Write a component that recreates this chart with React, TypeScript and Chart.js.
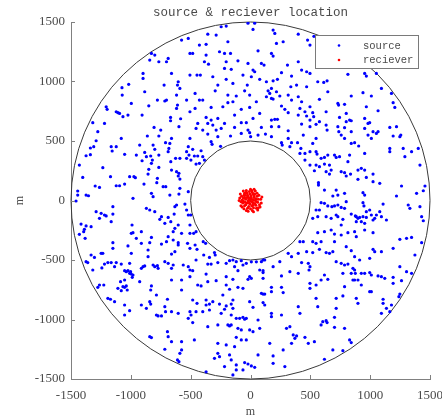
import React, { useEffect, useRef } from "react";
import { Chart, registerables } from "chart.js";

Chart.register(...registerables);

// Source positions in metres, grouped by sector of the annulus
const sourceNorthWest: [number, number][] = [
  [-576,1348],[-520,1362],[-506,1236],[-828,1236],[-842,1180],[-800,1222],[-766,1166],[-688,1194],[-702,1166],[-898,1068],
  [-898,1026],[-660,1068],[-604,998],[-610,970],[-1018,976],[-1074,948],[-1072,886],[-884,914],[-722,970],[-590,942],
  [-506,1054],[-618,886],[-534,844],[-778,844],[-716,836],[-702,844],[-996,816],[-850,796],[-610,802],[-618,774],
  [-1206,788],[-1198,766],[-1122,746],[-1108,738],[-1094,732],[-1066,704],[-1024,718],[-906,718],[-668,698],[-668,670],
  [-584,687],[-506,746],[-1318,654],[-1220,648],[-1276,578],[-806,614],[-750,592],[-598,620],[-766,542],[-862,542],
  [-1080,522],[-1290,502],[-1310,452],[-1338,441],[-1164,452],[-1156,416],[-1122,452],[-926,466],[-814,466],[-800,430],
  [-710,486],[-674,480],[-660,522],[-682,438],[-688,410],[-506,522],[-520,452],[-534,410],[-514,382],[-534,354],
  [-498,340],[-1374,376],[-1338,385],[-1052,388],[-954,382],[-884,404],[-870,368],[-834,374],[-766,382],[-820,340],
  [-828,312],[-906,334],[-626,354],[-590,354],[-666,326],[-1430,298],[-1234,276],[-850,262],[-766,278],[-660,256],
  [-618,242],[-598,228],[-604,206],[-1402,194],[-1170,200],[-1010,200],[-974,200],[-962,192],[-856,222],[-778,186],
  [-590,180],[-1298,122],[-1262,110],[-1122,124],[-1094,124],[-1052,138],[-890,138],[-783,150],[-730,116],[-708,116],
  [-590,102],[-1444,80],[-1444,46],[-1374,46],[-1354,40],[-982,18],[-828,60],[-814,32],[-674,46],[-598,54],[-520,74],
];

const sourceNorth: [number, number][] = [
  [-245,1460],[-203,1466],[-21,1490],[35,1490],[-287,1390],[-357,1398],[21,1438],[189,1432],[203,1404],[399,1398],
  [-427,1306],[-371,1312],[-189,1334],[217,1320],[273,1334],[477,1348],[497,1306],[-483,1236],[-371,1222],[-259,1250],
  [-217,1236],[-167,1236],[63,1258],[175,1236],[189,1214],[-385,1166],[-351,1146],[-203,1166],[-105,1174],[-21,1152],
  [91,1152],[113,1138],[309,1138],[399,1166],[-217,1110],[-161,1102],[21,1096],[35,1082],[259,1074],[427,1096],
  [469,1082],[-447,1054],[-419,1054],[-315,1040],[-63,1054],[7,1040],[-203,1018],[77,1018],[133,998],[189,1006],
  [225,1018],[343,1046],[497,1068],[-273,970],[-147,984],[-27,970],[175,942],[337,956],[385,970],[469,956],
  [-295,922],[-49,922],[147,922],[161,900],[217,914],[-463,900],[-189,886],[-119,878],[-7,886],[133,872],
  [175,858],[245,878],[315,886],[399,872],[-427,844],[-399,844],[49,830],[189,852],[-189,822],[-147,830],
  [343,844],[427,830],[-463,774],[-329,782],[-231,788],[-77,766],[-7,782],[259,794],[287,766],[413,774],
  [497,788],[455,746],[-133,718],[77,732],[315,738],[399,718],[469,710],[-371,698],[-273,690],[-329,676],
  [21,690],[175,676],[203,682],[225,682],[497,676],[-441,648],[-357,648],[-315,634],[-217,648],[-77,654],
  [-35,654],[427,642],[-455,606],[-399,592],[-287,592],[-245,606],[-133,614],[-21,592],[91,614],[175,620],
  [237,620],[497,620],[-357,558],[-167,542],[-77,564],[-7,570],[63,550],[125,558],[315,586],[441,550],
  [-273,536],[1,536],[175,536],[315,522],[-329,494],[-321,472],[-250,455],[-483,430],[-413,418],[259,486],
  [265,466],[343,486],[393,486],[-469,374],[-441,374],[-399,368],[421,438],[455,396],[329,452],[413,396],
  [497,410],[-455,306],[-385,340],[-427,312],[455,340],[497,298],
];

const sourceNorthEast: [number, number][] = [
  [530,1380],[562,998],[612,992],[640,1006],[646,914],[814,1060],[954,1068],[968,1046],[1052,1068],[1094,942],
  [940,906],[1010,878],[1178,900],[576,850],[730,816],[736,802],[786,808],[842,878],[1192,822],[1206,782],
  [968,788],[1066,754],[520,738],[528,704],[632,746],[744,698],[800,732],[828,676],[842,670],[800,662],
  [954,690],[982,648],[996,654],[576,662],[548,640],[632,634],[640,592],[730,620],[786,612],[738,578],
  [758,550],[786,522],[842,578],[954,606],[1024,578],[1052,564],[1066,578],[982,550],[1010,522],[1164,614],
  [1220,620],[1192,542],[1248,536],[1256,550],[548,522],[520,480],[842,480],[870,486],[904,458],[1164,438],
  [1164,410],[1276,438],[1346,410],[1290,368],[1402,438],[548,410],[556,390],[646,382],[590,354],[618,362],
  [702,382],[716,362],[744,368],[828,382],[954,396],[548,298],[576,284],[618,306],[660,298],[814,326],
  [534,250],[632,242],[674,256],[660,222],[758,242],[786,234],[800,206],[898,256],[926,270],[954,256],
  [836,222],[968,194],[1024,222],[1024,158],[1080,144],[898,178],[568,150],[568,130],[618,88],[716,88],
  [688,38],[730,46],[786,60],[940,66],[954,46],[1262,122],[1416,298],[1458,122],[1388,60],[1444,82],
  [1220,38],
];

const sourceSouthWest: [number, number][] = [
  [-1458,-4],[-1150,-52],[-1290,-94],[-1248,-108],[-1220,-122],[-1206,-130],[-1150,-114],[-1262,-150],[-1164,-178],[-1416,-198],
  [-1374,-214],[-1332,-220],[-1388,-242],[-1394,-262],[-1430,-284],[-1382,-318],[-990,-206],[-982,-270],[-996,-276],[-912,-262],
  [-870,-66],[-842,-80],[-800,-94],[-744,-136],[-758,-158],[-688,-142],[-632,-52],[-618,-38],[-548,-30],[-534,-80],
  [-520,-122],[-638,-114],[-716,-192],[-666,-178],[-604,-206],[-632,-234],[-646,-262],[-576,-276],[-506,-206],[-506,-276],
  [-954,-318],[-828,-310],[-842,-354],[-912,-360],[-856,-416],[-744,-366],[-688,-304],[-702,-346],[-646,-332],[-604,-354],
  [-604,-374],[-526,-360],[-506,-402],[-1150,-354],[-1150,-402],[-1024,-382],[-1248,-444],[-1234,-444],[-1332,-458],[-1304,-478],
  [-996,-444],[-856,-472],[-660,-450],[-632,-430],[-1374,-514],[-1360,-522],[-1220,-534],[-1192,-522],[-1164,-522],[-1136,-556],
  [-1122,-522],[-1080,-534],[-1010,-528],[-1052,-590],[-1038,-598],[-1024,-590],[-1002,-598],[-1010,-612],[-996,-618],[-982,-626],
  [-988,-646],[-912,-570],[-898,-556],[-884,-550],[-814,-542],[-800,-556],[-772,-570],[-778,-548],[-716,-514],[-688,-528],
  [-660,-570],[-646,-542],[-562,-542],[-520,-556],[-506,-584],[-1318,-584],[-1242,-567],[-1086,-682],[-1052,-668],[-1262,-710],
  [-1276,-730],[-1226,-710],[-1108,-738],[-1080,-758],[-1066,-724],[-1052,-730],[-1038,-718],[-1030,-752],[-926,-682],[-828,-718],
  [-834,-752],[-786,-794],[-660,-668],[-576,-668],[-506,-640],[-576,-752],[-1170,-830],[-1136,-850],[-694,-830],[-1192,-822],
  [-1052,-878],[-1010,-926],[-912,-878],[-870,-906],[-842,-850],[-834,-870],[-716,-892],[-660,-934],[-786,-962],[-772,-970],
  [-744,-970],[-710,-934],[-604,-948],[-506,-934],[-520,-990],[-1052,-962],[-842,-1144],[-828,-1152],[-694,-1102],[-688,-1144],
  [-660,-1186],[-716,-1250],[-576,-1186],[-576,-1256],[-610,-1340],[-598,-1354],[-590,-1284],
];

const sourceSouth: [number, number][] = [
  [-500,-122],[-475,-276],[-455,-262],[-463,-374],[-395,-346],[-375,-360],[-447,-410],[-391,-458],[-455,-500],[-343,-478],
  [-301,-438],[-295,-458],[-483,-590],[-357,-534],[-329,-534],[-273,-522],[-203,-528],[-175,-506],[-147,-500],[-133,-556],
  [-119,-514],[-105,-590],[-77,-506],[-63,-542],[-35,-528],[7,-515],[49,-515],[91,-514],[105,-500],[119,-500],
  [77,-584],[105,-590],[105,-606],[189,-556],[245,-514],[315,-444],[343,-472],[399,-444],[413,-346],[441,-346],
  [469,-430],[483,-528],[497,-556],[489,-584],[329,-598],[427,-522],[-203,-640],[-7,-640],[7,-654],[-21,-662],
  [105,-654],[-371,-618],[-357,-682],[-287,-674],[-147,-662],[259,-634],[399,-612],[-441,-710],[-413,-718],[-203,-710],
  [-175,-746],[-105,-730],[-63,-738],[175,-730],[175,-766],[91,-780],[105,-786],[119,-786],[273,-774],[259,-730],
  [497,-696],[497,-738],[-483,-836],[-371,-836],[-343,-870],[-315,-850],[-371,-878],[-447,-864],[-231,-794],[-259,-870],
  [-147,-836],[-203,-886],[-161,-870],[-147,-906],[-217,-914],[-7,-850],[21,-898],[105,-858],[119,-878],[175,-948],
  [175,-976],[259,-962],[399,-892],[413,-948],[-497,-962],[-455,-934],[-399,-934],[-343,-920],[-245,-948],[-161,-962],
  [-119,-990],[-91,-990],[-63,-982],[-49,-998],[-35,-990],[-189,-1046],[-175,-1054],[-161,-1046],[-273,-1046],[-105,-1074],
  [-357,-1060],[-483,-1026],[63,-1004],[77,-1074],[-77,-1088],[-7,-1088],[21,-1102],[-119,-1150],[-77,-1172],[-35,-1172],
  [-273,-1200],[-203,-1214],[-133,-1228],[161,-1200],[357,-1130],[371,-1158],[385,-1138],[301,-1074],[329,-1060],[343,-1200],
  [455,-1150],[483,-1200],[-469,-1172],[-273,-1284],[-301,-1326],[-259,-1312],[-175,-1298],[-161,-1340],[-119,-1382],[-119,-1424],
  [-49,-1362],[-21,-1374],[7,-1390],[-63,-1424],[35,-1402],[-371,-1440],[-217,-1396],[-147,-1466],[63,-1298],[189,-1306],
  [273,-1256],[287,-1396],[189,-1368],
];

const sourceSouthEast: [number, number][] = [
  [590,-18],[618,-24],[646,-46],[680,-52],[702,-46],[730,-38],[758,-58],[786,-66],[800,-10],[940,-18],
  [948,-46],[968,-94],[996,-80],[1052,-122],[1108,-30],[1318,-38],[1332,-66],[1416,-52],[1430,-136],[1444,-170],
  [548,-80],[576,-80],[562,-136],[520,-150],[632,-136],[674,-150],[716,-122],[730,-136],[772,-158],[842,-114],
  [876,-130],[884,-136],[898,-150],[912,-142],[940,-136],[968,-142],[1010,-122],[1038,-150],[1080,-94],[1094,-136],
  [884,-178],[926,-178],[954,-192],[1024,-164],[1136,-164],[758,-206],[562,-270],[618,-262],[674,-248],[702,-282],
  [758,-290],[814,-270],[870,-262],[884,-304],[954,-248],[1024,-270],[520,-346],[590,-346],[548,-360],[702,-346],
  [800,-388],[1024,-410],[1038,-430],[1094,-430],[1192,-402],[1248,-326],[1304,-318],[1346,-310],[1430,-354],[520,-438],
  [576,-410],[632,-438],[660,-444],[688,-430],[842,-422],[870,-472],[912,-500],[996,-486],[716,-514],[758,-528],
  [786,-542],[814,-534],[856,-570],[870,-584],[876,-612],[842,-612],[772,-612],[926,-612],[954,-612],[996,-606],
  [1010,-626],[1066,-634],[1094,-640],[1122,-654],[1192,-646],[1248,-556],[1304,-598],[1346,-612],[1374,-458],[618,-626],
  [590,-668],[548,-710],[646,-662],[856,-668],[870,-668],[898,-668],[926,-710],[996,-766],[1010,-766],[786,-724],
  [1192,-696],[1262,-674],[548,-822],[562,-892],[716,-822],[772,-802],[716,-906],[884,-822],[898,-864],[1108,-830],
  [1108,-864],[1136,-906],[1178,-878],[1248,-786],[1240,-808],[1164,-934],[1094,-948],[604,-1018],[590,-1046],[632,-1010],
  [640,-1026],[702,-982],[702,-1066],[786,-1074],[828,-1172],[842,-1194],[534,-1186],[688,-1256],[772,-1262],[618,-1334],
];

// Receiver positions in metres, clustered around the origin
const receivers: [number, number][] = [
  [-60,20],[-45,45],[-30,60],[-10,75],[15,70],[35,55],[55,35],[65,10],[60,-15],[45,-40],
  [25,-60],[0,-70],[-25,-65],[-50,-45],[-65,-20],[-70,5],[-40,10],[-20,30],[5,40],[30,25],
  [40,0],[20,-20],[-5,-30],[-30,-20],[-15,5],[10,10],[0,-5],[-50,60],[-75,35],[-80,-10],
  [-55,-70],[-20,-90],[15,-85],[50,-65],[75,-35],[85,10],[70,45],[40,80],[0,95],[-35,85],
  [-85,55],[-95,0],[-80,-45],[-35,-85],[25,-95],[60,-80],[90,-20],[95,30],[-25,45],[-5,55],
  [20,55],[45,15],[35,-25],[10,-45],[-15,-50],[-40,-35],[-60,-5],[-50,25],[-10,20],[15,-10],
  [-35,70],[55,60],[-70,-55],[80,-55],[10,85],[-60,80],[30,95],[-90,20],[65,-60],[-10,-20],
  [25,5],[50,-10],[-20,-5],[5,25],[-45,-15],[30,40],[-30,25],[0,15],[20,-40],[-55,45],
];

const ringRadii = [500, 1500];
const axisMin = -1500;
const axisMax = 1500;
const tickStep = 500;

const chartTitle = "source & reciever location";
const xAxisLabel = "m";
const yAxisLabel = "m";
const sourceLabel = "source";
const receiverLabel = "reciever";

const sourceColor = "#0000ff";
const receiverColor = "#ff0000";
const axisColor = "#808080";
const textColor = "#4a4a4a";

const toPoints = (pairs: [number, number][]) => pairs.map(([x, y]) => ({ x, y }));

const decorations = {
  id: "decorations",
  beforeDatasetsDraw(chart: any) {
    const { ctx, scales } = chart;
    const xs = scales.x;
    const ys = scales.y;
    const cx = xs.getPixelForValue(0);
    const cy = ys.getPixelForValue(0);
    ctx.save();
    ctx.strokeStyle = "#3a3a3a";
    ctx.lineWidth = 1;
    ringRadii.forEach((r) => {
      const rx = xs.getPixelForValue(r) - cx;
      const ry = cy - ys.getPixelForValue(r);
      ctx.beginPath();
      ctx.ellipse(cx, cy, rx, ry, 0, 0, Math.PI * 2);
      ctx.stroke();
    });
    ctx.restore();
  },
  afterDraw(chart: any) {
    const { ctx, chartArea, scales } = chart;
    const xs = scales.x;
    const ys = scales.y;
    ctx.save();

    // inward tick marks
    ctx.strokeStyle = axisColor;
    ctx.lineWidth = 1;
    xs.ticks.forEach((t: any) => {
      const px = Math.round(xs.getPixelForValue(t.value)) + 0.5;
      ctx.beginPath();
      ctx.moveTo(px, chartArea.bottom);
      ctx.lineTo(px, chartArea.bottom - 4);
      ctx.stroke();
    });
    ys.ticks.forEach((t: any) => {
      const py = Math.round(ys.getPixelForValue(t.value)) + 0.5;
      ctx.beginPath();
      ctx.moveTo(chartArea.left, py);
      ctx.lineTo(chartArea.left + 4, py);
      ctx.stroke();
    });

    // title
    ctx.fillStyle = textColor;
    ctx.font = "12.5px 'Liberation Mono', monospace";
    ctx.textAlign = "center";
    ctx.textBaseline = "middle";
    ctx.fillText(chartTitle, (chartArea.left + chartArea.right) / 2, 13);

    // axis labels
    ctx.font = "12px 'Liberation Serif', serif";
    ctx.fillText(xAxisLabel, (chartArea.left + chartArea.right) / 2, 412);
    ctx.save();
    ctx.translate(20, (chartArea.top + chartArea.bottom) / 2);
    ctx.rotate(-Math.PI / 2);
    ctx.fillText(yAxisLabel, 0, 0);
    ctx.restore();

    // legend box
    const boxRight = chartArea.right - 12;
    const boxLeft = boxRight - 103;
    const boxTop = chartArea.top + 13;
    const boxH = 33;
    ctx.fillStyle = "#ffffff";
    ctx.fillRect(boxLeft, boxTop, boxRight - boxLeft, boxH);
    ctx.strokeStyle = "#7a7a7a";
    ctx.lineWidth = 1;
    ctx.strokeRect(boxLeft + 0.5, boxTop + 0.5, boxRight - boxLeft, boxH);
    const entries = [
      { label: sourceLabel, color: sourceColor, y: boxTop + 10.5 },
      { label: receiverLabel, color: receiverColor, y: boxTop + 25 },
    ];
    ctx.font = "10.5px 'Liberation Mono', monospace";
    ctx.textAlign = "left";
    entries.forEach((e) => {
      ctx.fillStyle = e.color;
      ctx.beginPath();
      ctx.arc(boxLeft + 24, e.y, 1.3, 0, Math.PI * 2);
      ctx.fill();
      ctx.fillStyle = textColor;
      ctx.fillText(e.label, boxLeft + 48, e.y + 0.5);
    });

    ctx.restore();
  },
};

export default function App() {
  const canvasRef = useRef<HTMLCanvasElement | null>(null);

  useEffect(() => {
    if (!canvasRef.current) return;
    const allSources = [
      ...sourceNorthWest,
      ...sourceNorth,
      ...sourceNorthEast,
      ...sourceSouthWest,
      ...sourceSouth,
      ...sourceSouthEast,
    ];
    const tickFont = { family: "'Liberation Serif', serif", size: 13 };
    const chart = new Chart(canvasRef.current, {
      type: "scatter",
      data: {
        datasets: [
          {
            label: sourceLabel,
            data: toPoints(allSources),
            backgroundColor: sourceColor,
            borderWidth: 0,
            pointRadius: 1.6,
          },
          {
            label: receiverLabel,
            data: toPoints(receivers),
            backgroundColor: receiverColor,
            borderWidth: 0,
            pointRadius: 1.5,
          },
        ],
      },
      options: {
        animation: false,
        responsive: false,
        devicePixelRatio: 1,
        layout: { padding: { top: 22, right: 0, left: 0, bottom: 0 } },
        plugins: {
          legend: { display: false },
          title: { display: false },
          tooltip: { enabled: false },
        },
        scales: {
          x: {
            type: "linear",
            min: axisMin,
            max: axisMax,
            grid: { drawOnChartArea: false, drawTicks: false },
            border: { display: true, color: axisColor, width: 1 },
            ticks: {
              stepSize: tickStep,
              color: textColor,
              font: tickFont,
              padding: 9,
              maxRotation: 0,
              callback: (v: any) => String(v),
            },
            afterFit: (s: any) => {
              s.height = 41;
              s.paddingRight = 12;
              s.paddingLeft = 0;
            },
          },
          y: {
            type: "linear",
            min: axisMin,
            max: axisMax,
            grid: { drawOnChartArea: false, drawTicks: false },
            border: { display: true, color: axisColor, width: 1 },
            ticks: {
              stepSize: tickStep,
              color: textColor,
              font: tickFont,
              padding: 6,
              callback: (v: any) => String(v),
            },
            afterFit: (s: any) => {
              s.width = 71;
              s.paddingTop = 0;
              s.paddingBottom = 0;
            },
          },
        },
      },
      plugins: [decorations],
    });
    return () => chart.destroy();
  }, []);

  return (
    <div style={{ position: "absolute", left: 0, top: 0, width: 442, height: 420, background: "#fff" }}>
      <canvas ref={canvasRef} width={442} height={420} />
    </div>
  );
}
